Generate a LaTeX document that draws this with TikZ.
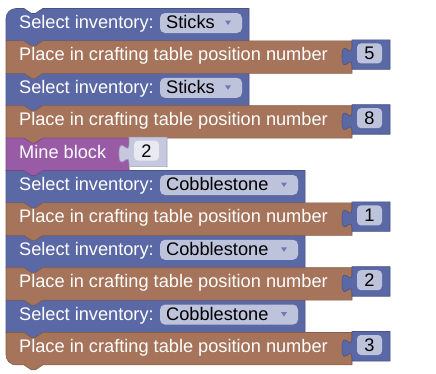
\documentclass[tikz,border=0pt]{standalone}
\usepackage{fontspec}
\setmainfont{Liberation Sans}
\definecolor{invblue}{HTML}{5B68A6}
\definecolor{placebrown}{HTML}{A6745B}
\definecolor{minepurple}{HTML}{995BA6}
\definecolor{fieldgrey}{HTML}{BDC3DB}
\definecolor{shadowgrey}{HTML}{C5C8DE}
\definecolor{shadowfield}{HTML}{E8E9F1}
\definecolor{arrowblue}{HTML}{6E7AB4}
\tikzset{
  blocktext/.style={anchor=base west, text=white, inner sep=0pt},
  fieldtext/.style={anchor=base, text=black, inner sep=0pt},
}
% statement block: top, right edge, colour, top-left radius, bottom-left radius
\newcommand{\stmt}[5]{%
  \filldraw[fill=#3, draw=#3!80!black, line width=0.6pt]
    (6,#1+16) [rounded corners=#4] -- (6,#1) [sharp corners] -- (24,#1)
    -- (31.5,#1+5) -- (35.25,#1+5) -- (42.75,#1) -- (#2,#1) -- (#2,#1+32.4)
    -- (42.75,#1+32.4) -- (35.25,#1+37.4) -- (31.5,#1+37.4) -- (24,#1+32.4)
    [rounded corners=#5] -- (6,#1+32.4) [sharp corners] -- cycle;}
% value block plugged on the right: top, left edge, colour, field colour
\newcommand{\valblock}[4]{%
  \filldraw[fill=#3, draw=#3!80!black, line width=0.6pt]
    (#2,#1-1) -- (#2+38,#1-1) -- (#2+38,#1+28.5) -- (#2,#1+28.5) -- (#2,#1+25)
    .. controls (#2,#1+12.5) and (#2-10,#1+35) .. (#2-10,#1+15.6)
    .. controls (#2-10,#1-3.75) and (#2,#1+18.75) .. (#2,#1+6.25) -- cycle;
  \fill[#4, rounded corners=4pt] (#2+5,#1+2.5) rectangle (#2+30,#1+22.5);}
\begin{document}
\begin{tikzpicture}[x=1pt,y=-1pt]
\useasboundingbox (0,0) rectangle (436,373);
\fontsize{18.2}{20}\selectfont
% inventory selection
\foreach \i/\item/\r/\rt in {0/Sticks/249/10, 2/Sticks/249/0, 5/Cobblestone/305/0,
                            7/Cobblestone/305/0, 9/Cobblestone/305/0}
  {\pgfmathsetmacro\t{8.5+32.4*\i}
   \stmt{\t}{\r}{invblue}{\rt}{0}
   \node[blocktext] (sel\i) at (19,\t+20) {Select inventory:};
   \fill[fieldgrey, rounded corners=5pt] (160,\t+4.5) rectangle (\r-7,\t+24.5);
   \node[fieldtext, anchor=base west] (item\i) at (166,\t+20) {\item};
   \fill[arrowblue] (\r-24,\t+12) -- (\r-18,\t+12) -- (\r-21,\t+16.5) -- cycle;};
% crafting table placement
\foreach \i/\n/\rb in {1/5/0, 3/8/0, 6/1/0, 8/2/0, 10/3/10}
  {\pgfmathsetmacro\t{8.5+32.4*\i}
   \stmt{\t}{352}{placebrown}{0}{\rb}
   \node[blocktext] (place\i) at (19,\t+20) {Place in crafting table position number};
   \valblock{\t}{352}{invblue}{fieldgrey}
   \node[fieldtext] (num\i) at (369.5,\t+19) {\n};};
% mining
\pgfmathsetmacro\t{8.5+32.4*4}
\stmt{\t}{129}{minepurple}{0}{0}
\node[blocktext] (mine) at (19,\t+20) {Mine block};
\valblock{\t}{129}{shadowgrey}{shadowfield}
\node[fieldtext] (minenum) at (146.5,\t+19) {2};
\end{tikzpicture}
\end{document}
